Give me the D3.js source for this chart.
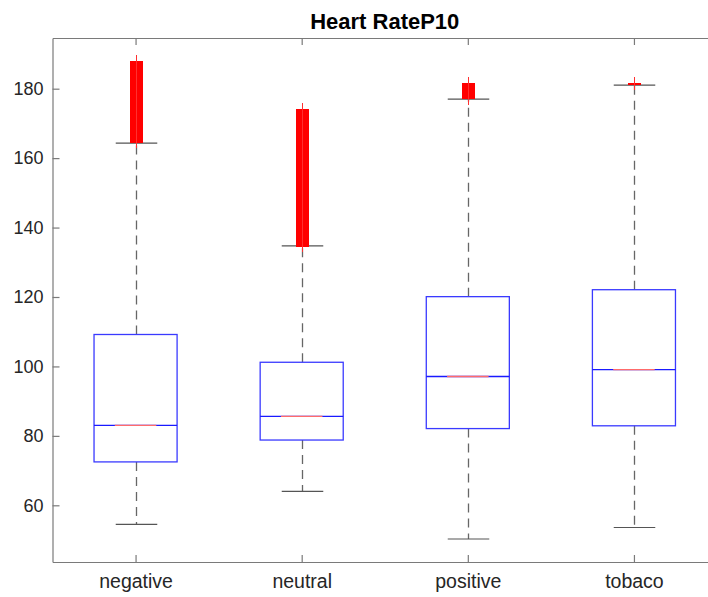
<!DOCTYPE html>
<html>
<head>
<meta charset="utf-8">
<script src="https://cdn.jsdelivr.net/npm/d3@7"></script>
<style>
  body { margin: 0; background: #fff; }
  svg { display: block; font-family: "Liberation Sans", Arial, Helvetica, sans-serif; }
</style>
</head>
<body>
<script>
// box plot stats
var categories = ["negative", "neutral", "positive", "tobaco"];
var q1 = [72.5, 78.8, 82.1, 82.9];
var medians = [83.0, 85.6, 97.1, 99.1];
var q3 = [109.2, 101.2, 120.1, 122.1];
var whiskerLow = [54.5, 64.0, 50.3, 53.6];
var whiskerHigh = [164.3, 134.7, 177.0, 181.0];

// outliers (dense runs of '+' markers)
var outNegative = [164.8, 165.3, 165.9, 166.6, 167.1, 167.8, 168.3, 169.0, 169.5, 170.2, 170.8, 171.3, 172.0, 172.6, 173.1, 173.8, 174.4, 175.0, 175.5, 176.2, 176.8, 177.3, 178.0, 178.6, 179.1, 179.8, 180.4, 181.0, 181.5, 182.2, 182.8, 183.3, 184.0, 184.6, 185.1, 185.8, 186.4, 187.0, 187.7];
var outNeutral = [134.9, 135.5, 136.1, 136.8, 137.3, 138.0, 138.6, 139.1, 139.8, 140.4, 141.0, 141.5, 142.2, 142.8, 143.3, 144.0, 144.6, 145.1, 145.8, 146.4, 147.0, 147.5, 148.2, 148.8, 149.3, 150.0, 150.6, 151.1, 151.8, 152.4, 153.0, 153.5, 154.2, 154.8, 155.3, 156.0, 156.6, 157.1, 157.8, 158.4, 159.0, 159.5, 160.2, 160.8, 161.3, 162.0, 162.6, 163.1, 163.8, 164.4, 165.0, 165.5, 166.2, 166.8, 167.3, 168.0, 168.6, 169.1, 169.8, 170.4, 171.0, 171.5, 172.2, 172.8, 173.3, 173.9];
var outPositive = [177.3, 177.9, 178.5, 179.1, 179.7, 180.3, 180.8, 181.4];
var outTobaco = [181.4];
var outliers = [outNegative, outNeutral, outPositive, outTobaco];

var yTicks = [60, 80, 100, 120, 140, 160, 180];
var title = "Heart RateP10";

var width = 708, height = 597;
var margin = { top: 38, left: 52.5, bottom: 35, right: -9 };

var svg = d3.select("body").append("svg")
  .attr("width", width)
  .attr("height", height);

var x = d3.scaleLinear()
  .domain([0.5, categories.length + 0.5])
  .range([margin.left, width - margin.right]);

var y = d3.scaleLinear()
  .domain([43.67, 194.6])
  .range([height - margin.bottom, margin.top]);

var boxHalf = (x(1.25) - x(1));
var capHalf = (x(1.125) - x(1));
var axisColor = "#7a7a7a";
var textColor = "#262626";

var g = svg.append("g");

// whiskers
categories.forEach(function (c, i) {
  var cx = Math.round(x(i + 1)) + 0.5;
  g.append("line")
    .attr("x1", cx).attr("x2", cx)
    .attr("y1", y(q3[i])).attr("y2", y(whiskerHigh[i]))
    .attr("stroke", "#666").attr("stroke-width", 1.3)
    .attr("stroke-dasharray", "9,6");
  g.append("line")
    .attr("x1", cx).attr("x2", cx)
    .attr("y1", y(q1[i])).attr("y2", y(whiskerLow[i]))
    .attr("stroke", "#666").attr("stroke-width", 1.3)
    .attr("stroke-dasharray", "9,6");
  [whiskerHigh[i], whiskerLow[i]].forEach(function (v) {
    g.append("line")
      .attr("x1", cx - capHalf).attr("x2", cx + capHalf)
      .attr("y1", y(v)).attr("y2", y(v))
      .attr("stroke", "#555").attr("stroke-width", 1.2);
  });
});

// boxes
g.selectAll(".box")
  .data(categories)
  .enter()
  .append("rect")
  .attr("class", "box")
  .attr("x", function (d, i) { return x(i + 1) - boxHalf; })
  .attr("width", boxHalf * 2)
  .attr("y", function (d, i) { return y(q3[i]); })
  .attr("height", function (d, i) { return y(q1[i]) - y(q3[i]); })
  .attr("fill", "none")
  .attr("stroke", "#3a3aff")
  .attr("stroke-width", 1.3);

// medians: blue across, red in the middle
g.selectAll(".medb")
  .data(categories)
  .enter()
  .append("line")
  .attr("x1", function (d, i) { return x(i + 1) - boxHalf; })
  .attr("x2", function (d, i) { return x(i + 1) + boxHalf; })
  .attr("y1", function (d, i) { return y(medians[i]); })
  .attr("y2", function (d, i) { return y(medians[i]); })
  .attr("stroke", "#1a1aff").attr("stroke-width", 1.3);

g.selectAll(".medr")
  .data(categories)
  .enter()
  .append("line")
  .attr("x1", function (d, i) { return x(i + 1) - capHalf; })
  .attr("x2", function (d, i) { return x(i + 1) + capHalf; })
  .attr("y1", function (d, i) { return y(medians[i]); })
  .attr("y2", function (d, i) { return y(medians[i]); })
  .attr("stroke", "#ff6b6b").attr("stroke-width", 1.3);

// outliers as '+' markers
var arm = 6.5;
outliers.forEach(function (list, i) {
  var cx = Math.round(x(i + 1));
  var og = g.append("g").attr("shape-rendering", "crispEdges");
  og.selectAll(".out" + i)
    .data(list)
    .enter()
    .append("path")
    .attr("class", "out" + i)
    .attr("d", function (v) {
      var cy = y(v);
      return "M" + (cx - arm) + "," + cy + "H" + (cx + arm);
    })
    .attr("fill", "none")
    .attr("stroke", "#ff0000")
    .attr("stroke-width", 2.6);
  og.selectAll(".outv" + i)
    .data(list)
    .enter()
    .append("path")
    .attr("class", "outv" + i)
    .attr("d", function (v) {
      var cy = y(v);
      return "M" + (cx + 0.5) + "," + (cy - arm) + "V" + (cy + arm);
    })
    .attr("fill", "none")
    .attr("stroke", "#ff3030")
    .attr("stroke-width", 1);
});

// axes
var yAxis = d3.axisLeft(y).tickValues(yTicks).tickSizeInner(-7).tickSizeOuter(0).tickPadding(16);
var xAxis = d3.axisBottom(x).tickValues([1, 2, 3, 4])
  .tickFormat(function (d) { return categories[d - 1]; })
  .tickSizeInner(-7).tickSizeOuter(0).tickPadding(16);
var xTop = d3.axisTop(x).tickValues([1, 2, 3, 4]).tickFormat("")
  .tickSizeInner(-7).tickSizeOuter(0);

var ya = svg.append("g")
  .attr("transform", "translate(" + margin.left + ",0)")
  .call(yAxis);
var xa = svg.append("g")
  .attr("transform", "translate(0," + (height - margin.bottom) + ")")
  .call(xAxis);
var xt = svg.append("g")
  .attr("transform", "translate(0," + margin.top + ")")
  .call(xTop);

[ya, xa, xt].forEach(function (a) {
  a.selectAll("path, line").attr("stroke", axisColor).attr("stroke-width", 1.2);
  a.selectAll("text").attr("fill", textColor).attr("font-size", 18)
    .attr("font-family", "'Liberation Sans', Arial, sans-serif");
});
ya.selectAll("text").attr("dx", 7);
xa.selectAll("text").attr("dy", "0.5em").attr("font-size", 19.5);

// title
svg.append("text")
  .attr("x", (margin.left + width - margin.right) / 2)
  .attr("y", 29)
  .attr("text-anchor", "middle")
  .attr("font-weight", "bold")
  .attr("font-size", 22)
  .attr("fill", "#000")
  .text(title);
</script>
</body>
</html>
